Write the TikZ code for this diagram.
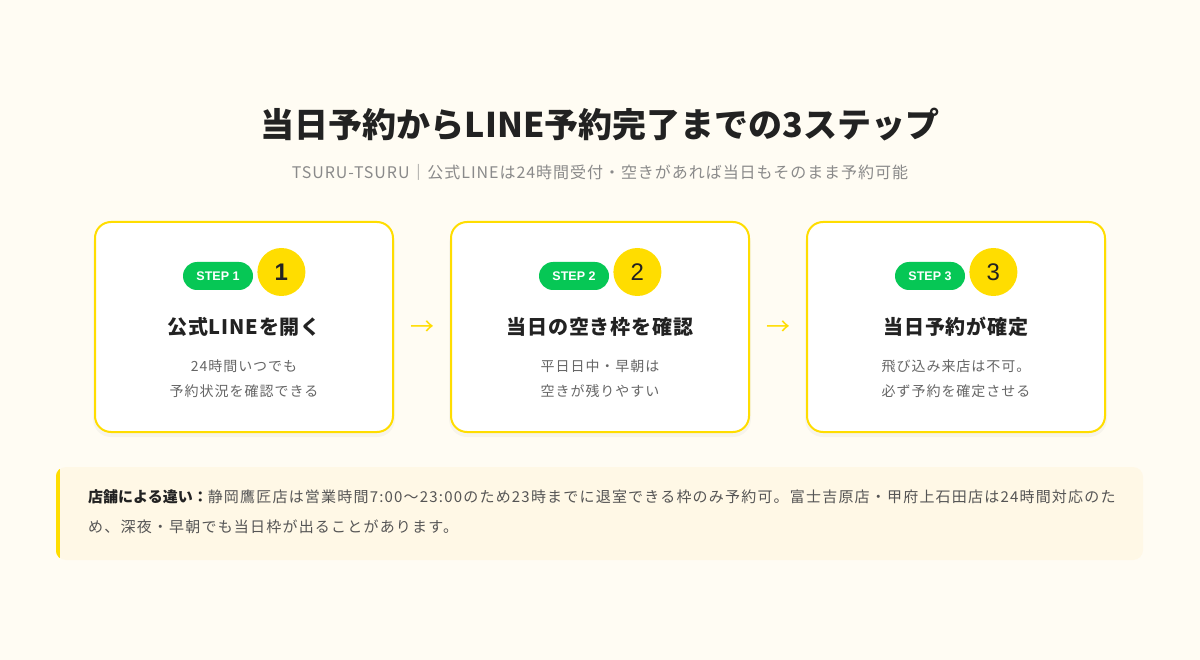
\documentclass[tikz,border=0pt]{standalone}
\usepackage{fontspec}
\setmainfont{Noto Sans CJK JP}
\newfontfamily\stepfont{Liberation Sans}
\usetikzlibrary{positioning,calc}
\definecolor{cream}{HTML}{FFFCF3}
\definecolor{notefill}{HTML}{FFF8E6}
\definecolor{lineyellow}{HTML}{FFDD00}
\definecolor{linegreen}{HTML}{06C755}
\definecolor{ink}{HTML}{222222}
\definecolor{subgrey}{HTML}{8A8A8A}
\definecolor{descgrey}{HTML}{666666}
\definecolor{notegrey}{HTML}{555555}

\begin{document}
\begin{tikzpicture}[x=1pt, y=-1pt, node distance=4pt]
\tikzstyle{card} = [draw=lineyellow, line width=2pt, fill=white, rounded corners=16pt, minimum width=298pt, minimum height=210pt]
\tikzstyle{pill} = [fill=linegreen, rounded corners=14pt, minimum width=70pt, minimum height=28pt, inner sep=0pt, text=white, font=\stepfont\bfseries\fontsize{12.5}{12.5}\selectfont]
\tikzstyle{num} = [circle, fill=lineyellow, minimum size=48pt, inner sep=0pt, text=ink, font=\stepfont\fontsize{24}{24}\selectfont]
\tikzstyle{head} = [text=ink, font=\bfseries\fontsize{20}{24}\selectfont\addfontfeature{LetterSpace=4}]
\tikzstyle{desc} = [text=descgrey, align=center, font=\fontsize{14}{25}\selectfont\addfontfeature{LetterSpace=7}]
\tikzstyle{nextmark} = [text=lineyellow, font=\fontsize{24}{24}\selectfont]
\tikzstyle{shade} = [fill=black, opacity=0.03, rounded corners=18pt]
\tikzstyle{notetext} = [anchor=west, inner sep=0pt, text=notegrey, font=\fontsize{15}{15}\selectfont\addfontfeature{LetterSpace=8}]

% page and heading
\fill[cream] (0,0) rectangle (1200,660);
\useasboundingbox (0,0) rectangle (1200,660);
\node[text=ink, font=\bfseries\fontsize{34}{36}\selectfont] (title) at (600,125) {当日予約からLINE予約完了までの3ステップ};
\node[text=subgrey, font=\fontsize{16}{18}\selectfont\addfontfeature{LetterSpace=6}] (subtitle) at (600,172) {TSURU-TSURU｜公式LINEは24時間受付・空きがあれば当日もそのまま予約可能};

% the three cards
\foreach \cx in {244,600,956}
  \fill[shade] (\cx-151,226) rectangle (\cx+151,437);
\node[card] (card1) at (244,327) {};
\node[card] (card2) at (600,327) {};
\node[card] (card3) at (956,327) {};

\node[pill] (step1) at ($(card1.north)+(-26,55)$) {STEP 1};
\node[num, right=4pt of step1, yshift=4pt] (num1) {\textbf{1}};
\node[head] (head1) at ($(card1.north)+(0,106)$) {公式LINEを開く};
\node[desc] (desc1) at ($(card1.north)+(0,157.5)$) {24時間いつでも\\予約状況を確認できる};

\node[pill] (step2) at ($(card2.north)+(-26,55)$) {STEP 2};
\node[num, right=4pt of step2, yshift=4pt] (num2) {2};
\node[head] (head2) at ($(card2.north)+(0,106)$) {当日の空き枠を確認};
\node[desc] (desc2) at ($(card2.north)+(0,157.5)$) {平日日中・早朝は\\空きが残りやすい};

\node[pill] (step3) at ($(card3.north)+(-26,55)$) {STEP 3};
\node[num, right=4pt of step3, yshift=4pt] (num3) {3};
\node[head] (head3) at ($(card3.north)+(0,106)$) {当日予約が確定};
\node[desc] (desc3) at ($(card3.north)+(0,157.5)$) {飛び込み来店は不可。\\必ず予約を確定させる};

% arrows between the cards
\node[nextmark] (next1) at ($(card1.east)!0.5!(card2.west)+(0,1)$) {→};
\node[nextmark] (next2) at ($(card2.east)!0.5!(card3.west)+(0,1)$) {→};

% note at the bottom
\node[fill=notefill, rounded corners=10pt, minimum width=1087pt, minimum height=93pt] (note) at (599.5,513.5) {};
\begin{scope}
  \clip[rounded corners=10pt] (note.north west) rectangle (note.south east);
  \fill[lineyellow] (note.north west) rectangle ($(note.south west)+(4,0)$);
\end{scope}
\node[notetext] (note1) at (88,497) {\textcolor{ink}{\bfseries\addfontfeature{LetterSpace=0}店舗による違い：}静岡鷹匠店は営業時間7:00〜23:00のため23時までに退室できる枠のみ予約可。富士吉原店・甲府上石田店は24時間対応のた};
\node[notetext] (note2) at (88,527) {め、深夜・早朝でも当日枠が出ることがあります。};

\end{tikzpicture}
\end{document}
